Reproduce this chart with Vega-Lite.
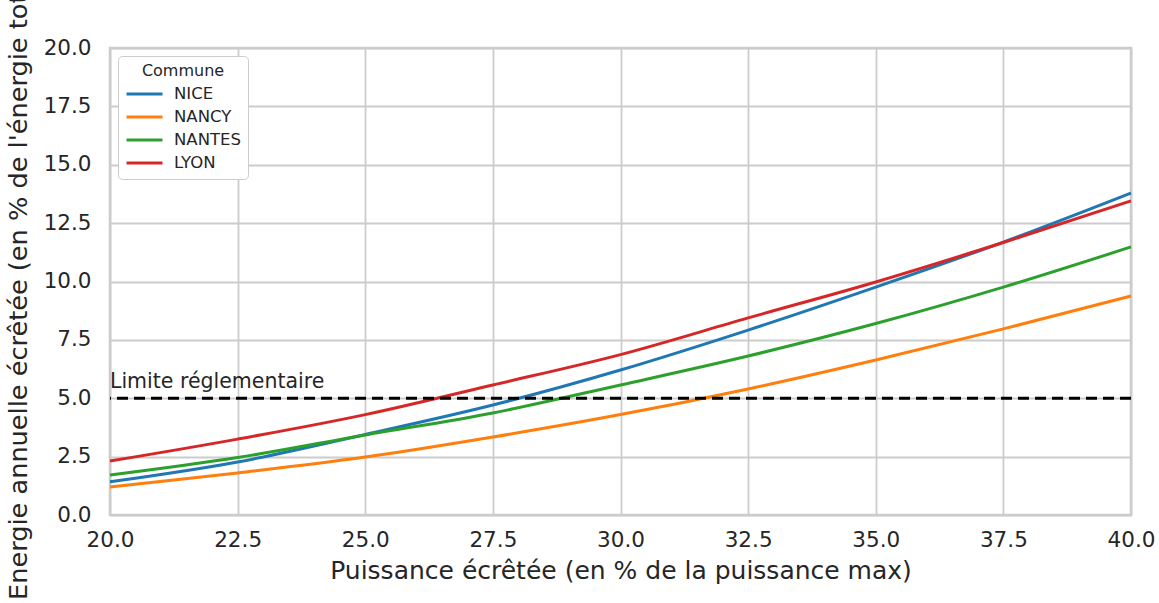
{
  "$schema": "https://vega.github.io/schema/vega-lite/v6.json",
  "width": 1021,
  "height": 467,
  "autosize": {"type": "none"},
  "padding": {"left": 110, "top": 48, "right": 28, "bottom": 88},
  "background": "white",
  "datasets": {
    "curves": [
      {"puissance": 20, "energie": 1.42, "commune": "NICE"},
      {"puissance": 22.5, "energie": 2.27, "commune": "NICE"},
      {"puissance": 25, "energie": 3.45, "commune": "NICE"},
      {"puissance": 27.5, "energie": 4.71, "commune": "NICE"},
      {"puissance": 30, "energie": 6.21, "commune": "NICE"},
      {"puissance": 32.5, "energie": 7.92, "commune": "NICE"},
      {"puissance": 35, "energie": 9.76, "commune": "NICE"},
      {"puissance": 37.5, "energie": 11.69, "commune": "NICE"},
      {"puissance": 40, "energie": 13.79, "commune": "NICE"},
      {"puissance": 20, "energie": 1.2, "commune": "NANCY"},
      {"puissance": 22.5, "energie": 1.8, "commune": "NANCY"},
      {"puissance": 25, "energie": 2.48, "commune": "NANCY"},
      {"puissance": 27.5, "energie": 3.34, "commune": "NANCY"},
      {"puissance": 30, "energie": 4.3, "commune": "NANCY"},
      {"puissance": 32.5, "energie": 5.4, "commune": "NANCY"},
      {"puissance": 35, "energie": 6.64, "commune": "NANCY"},
      {"puissance": 37.5, "energie": 7.97, "commune": "NANCY"},
      {"puissance": 40, "energie": 9.38, "commune": "NANCY"},
      {"puissance": 20, "energie": 1.71, "commune": "NANTES"},
      {"puissance": 22.5, "energie": 2.46, "commune": "NANTES"},
      {"puissance": 25, "energie": 3.43, "commune": "NANTES"},
      {"puissance": 27.5, "energie": 4.37, "commune": "NANTES"},
      {"puissance": 30, "energie": 5.57, "commune": "NANTES"},
      {"puissance": 32.5, "energie": 6.81, "commune": "NANTES"},
      {"puissance": 35, "energie": 8.2, "commune": "NANTES"},
      {"puissance": 37.5, "energie": 9.76, "commune": "NANTES"},
      {"puissance": 40, "energie": 11.48, "commune": "NANTES"},
      {"puissance": 20, "energie": 2.31, "commune": "LYON"},
      {"puissance": 22.5, "energie": 3.25, "commune": "LYON"},
      {"puissance": 25, "energie": 4.3, "commune": "LYON"},
      {"puissance": 27.5, "energie": 5.57, "commune": "LYON"},
      {"puissance": 30, "energie": 6.87, "commune": "LYON"},
      {"puissance": 32.5, "energie": 8.44, "commune": "LYON"},
      {"puissance": 35, "energie": 9.98, "commune": "LYON"},
      {"puissance": 37.5, "energie": 11.67, "commune": "LYON"},
      {"puissance": 40, "energie": 13.45, "commune": "LYON"}
    ],
    "limite": [
      {"seuil": 5, "x": 20, "y": 5.45, "label": "Limite réglementaire"}
    ]
  },
  "layer": [
    {
      "data": {"name": "curves"},
      "mark": {"type": "line", "strokeWidth": 3, "interpolate": "monotone"},
      "encoding": {
        "x": {
          "field": "puissance",
          "type": "quantitative",
          "scale": {"domain": [20, 40], "nice": false, "zero": false},
          "axis": {
            "title": "Puissance écrêtée (en % de la puissance max)",
            "values": [20, 22.5, 25, 27.5, 30, 32.5, 35, 37.5, 40],
            "format": ".1f",
            "labelPadding": 14,
            "titlePadding": 8
          }
        },
        "y": {
          "field": "energie",
          "type": "quantitative",
          "scale": {"domain": [0, 20], "nice": false},
          "axis": {
            "title": "Energie annuelle écrêtée (en % de l'énergie totale)",
            "values": [0, 2.5, 5, 7.5, 10, 12.5, 15, 17.5, 20],
            "format": ".1f",
            "labelPadding": 19,
            "titlePadding": 12,
            "titleFontSize": 25.6,
            "titleY": 224
          }
        },
        "color": {
          "field": "commune",
          "type": "nominal",
          "scale": {
            "domain": ["NICE", "NANCY", "NANTES", "LYON"],
            "range": ["#1f77b4", "#ff7f0e", "#2ca02c", "#d62728"]
          },
          "legend": {
            "title": "Commune",
            "orient": "top-left",
            "offset": 8
          }
        }
      }
    },
    {
      "data": {"name": "limite"},
      "mark": {"type": "rule", "color": "black", "strokeWidth": 2.8, "strokeDash": [11, 6]},
      "encoding": {
        "y": {"field": "seuil", "type": "quantitative"}
      }
    },
    {
      "data": {"name": "limite"},
      "mark": {
        "type": "text",
        "align": "left",
        "baseline": "alphabetic",
        "font": "DejaVu Sans",
        "fontSize": 20.5,
        "color": "#262626"
      },
      "encoding": {
        "x": {"field": "x", "type": "quantitative"},
        "y": {"field": "y", "type": "quantitative"},
        "text": {"field": "label"}
      }
    }
  ],
  "config": {
    "font": "DejaVu Sans",
    "view": {"stroke": "#cccccc", "strokeWidth": 2.5},
    "axis": {
      "domain": false,
      "ticks": false,
      "tickSize": 0,
      "grid": true,
      "gridColor": "#cccccc",
      "gridWidth": 1.8,
      "labelFont": "DejaVu Sans",
      "labelFontSize": 21.5,
      "labelColor": "#262626",
      "titleFont": "DejaVu Sans",
      "titleFontSize": 25,
      "titleFontWeight": "normal",
      "titleColor": "#262626",
      "labelFlush": false,
      "labelOverlap": false
    },
    "legend": {
      "fillColor": "white",
      "strokeColor": "#cccccc",
      "cornerRadius": 4,
      "padding": 7,
      "symbolType": "M-1,0H3",
      "symbolSize": 324,
      "symbolStrokeWidth": 3,
      "labelFont": "DejaVu Sans",
      "labelFontSize": 16.5,
      "labelColor": "#262626",
      "labelOffset": 28,
      "titleFont": "DejaVu Sans",
      "titleFontSize": 16,
      "titleFontWeight": "normal",
      "titleColor": "#262626",
      "titleAnchor": "middle",
      "titlePadding": 4.5,
      "rowPadding": 4
    }
  }
}
